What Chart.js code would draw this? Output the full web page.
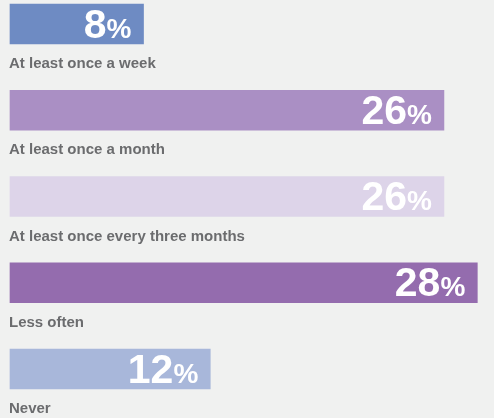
<!DOCTYPE html>
<html>
<head>
<meta charset="utf-8">
<script src="https://cdn.jsdelivr.net/npm/chart.js@4"></script>
<style>
  html, body { margin: 0; padding: 0; background: #f0f1f0; }
  #wrap { width: 494px; height: 418px; }
</style>
</head>
<body>
<div id="wrap"><canvas id="frequencyChart"></canvas></div>
<script>
const categories = ['At least once a week', 'At least once a month', 'At least once every three months', 'Less often', 'Never'];
const values = [8, 26, 26, 28, 12];
const barColors = ['#6e8bc3', '#aa8fc4', '#ddd4e9', '#946cae', '#a8b7da'];

// draws the big % inside each bar and the category name underneath
const barLabels = {
    id: 'barLabels',
    afterDatasetsDraw(chart) {
        const ctx = chart.ctx;
        const meta = chart.getDatasetMeta(0);
        meta.data.forEach((bar, i) => {
            ctx.save();
            ctx.textBaseline = 'alphabetic';

            ctx.font = 'bold 15px "Liberation Sans", Arial, sans-serif';
            ctx.fillStyle = '#6b6c6e';
            ctx.textAlign = 'left';
            ctx.fillText(categories[i], chart.chartArea.left - 1, bar.y + 44);

            const right = bar.x - 12;
            const baseline = bar.y + 13.5;
            ctx.fillStyle = '#ffffff';
            ctx.textAlign = 'right';
            ctx.font = 'bold 28px "Liberation Sans", Arial, sans-serif';
            const pctWidth = ctx.measureText('%').width;
            ctx.fillText('%', right, baseline);
            ctx.font = 'bold 41px "Liberation Sans", Arial, sans-serif';
            ctx.fillText(String(values[i]), right - pctWidth, baseline);
            ctx.restore();
        });
    }
};

const ctx = document.getElementById('frequencyChart').getContext('2d');

new Chart(ctx, {
    type: 'bar',
    data: {
        labels: categories,
        datasets: [{
            data: values,
            backgroundColor: barColors,
            barThickness: 40,
            borderWidth: 0,
            clip: false
        }]
    },
    options: {
        indexAxis: 'y',
        responsive: true,
        maintainAspectRatio: false,
        animation: false,
        layout: {
            padding: { top: 24, bottom: 49, left: 10, right: 0 }
        },
        scales: {
            x: { display: false, min: 0, max: 29 },
            y: { display: false, offset: false }
        },
        plugins: {
            legend: { display: false },
            tooltip: { enabled: false }
        }
    },
    plugins: [barLabels]
});
</script>
</body>
</html>
